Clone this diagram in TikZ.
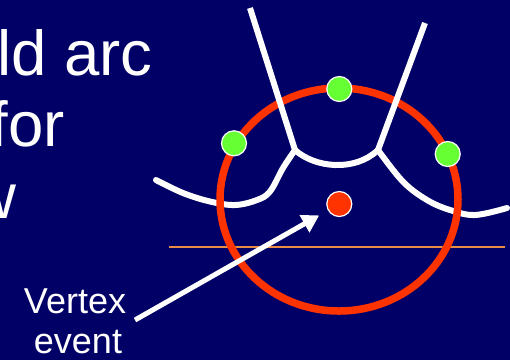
\documentclass[tikz,border=0pt]{standalone}
\usepackage{fontspec}
\setmainfont{Liberation Sans}
\usetikzlibrary{arrows.meta}
\definecolor{bgblue}{RGB}{0,0,102}
\definecolor{ringred}{RGB}{255,51,0}
\definecolor{dotgreen}{RGB}{102,255,51}
\definecolor{sweeporange}{RGB}{235,140,70}
\tikzset{
  bigtxt/.style={text=white, inner sep=0pt, font=\fontsize{63.5}{70}\selectfont},
  labtxt/.style={text=white, inner sep=0pt, font=\fontsize{36}{40}\selectfont},
  whiteline/.style={draw=white, line width=6pt, line join=round, line cap=round},
  site/.style={circle, fill=dotgreen, draw=white, line width=1.2pt, minimum size=25pt, inner sep=0pt},
  evt/.style={circle, fill=ringred, draw=white, line width=1.2pt, minimum size=25pt, inner sep=0pt},
  pointer/.style={draw=white, line width=5pt, -{Triangle[length=17pt,width=19pt]}, shorten >=10pt},
}
\begin{document}
\begin{tikzpicture}[x=1pt,y=-1pt]
\useasboundingbox (0,0) rectangle (510,360);
\clip (0,0) rectangle (510,360);
\fill[bgblue] (0,0) rectangle (510,360);
% text
\node[bigtxt, anchor=base west] (t1) at (-3,75) {ld arc};
\node[bigtxt, anchor=base west] (t2) at (-9.5,146.5) {for};
\node[bigtxt, anchor=base west] (t3) at (-30,218) {w};
\node[labtxt, anchor=base] (l1) at (75,313) {Vertex};
\node[labtxt, anchor=base] (l2) at (78,353) {event};
% sweep line
\coordinate (sw1) at (169,247.3);
\coordinate (sw2) at (505,247.3);
\draw[sweeporange, line width=2.2pt] (sw1) -- (sw2);
% beach line
\coordinate (v1) at (295,150);
\coordinate (v2) at (378,150);
\draw[whiteline] plot[smooth, tension=0.6] coordinates {(156,180) (183,193) (210,201.5) (235,205) (257,200) (270,191.5) (283,168) (295,150)};
\draw[whiteline] (v1) .. controls (315,168) and (355,172) .. (v2);
\draw[whiteline] plot[smooth, tension=0.6] coordinates {(378,150) (403,181.7) (427,200) (450,210) (475,215) (507,208)};
% circle
\coordinate (cc) at (339,199.5);
\draw[ringred, line width=7.5pt] (cc) ellipse [x radius=119pt, y radius=111.5pt];
% bisectors
\coordinate (b1) at (250,8);
\coordinate (b2) at (425,23);
\draw[whiteline, line cap=butt] (b1) -- (v1);
\draw[whiteline, line cap=butt] (b2) -- (v2);
% sites
\node[site] (s1) at (339.3,89) {};
\node[site] (s2) at (234,143.3) {};
\node[site] (s3) at (447.7,154) {};
% vertex event
\node[evt] (ve) at (339.3,204) {};
\coordinate (as) at (135,320);
\draw[pointer] (as) -- (ve);
\end{tikzpicture}
\end{document}
